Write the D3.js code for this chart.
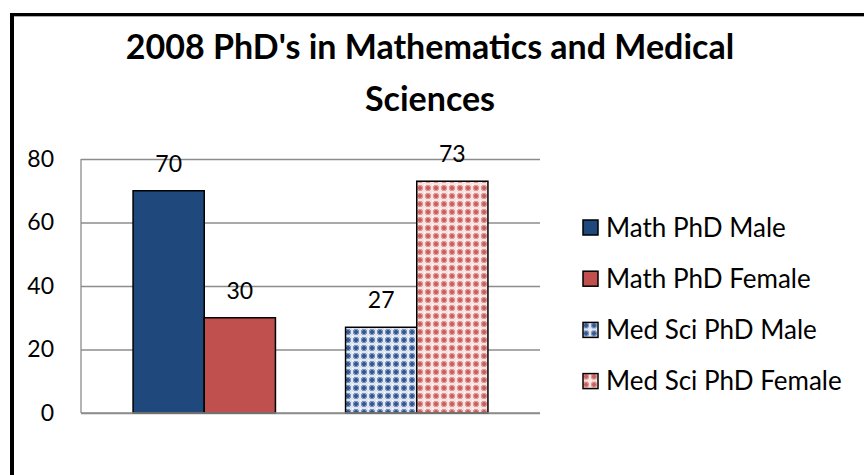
<!DOCTYPE html>
<html>
<head>
<meta charset="utf-8">
<script src="https://cdn.jsdelivr.net/npm/d3@7"></script>
<style>
  body { margin: 0; background: #fff; }
  svg { display: block; font-family: Lato, "Open Sans", sans-serif; }
</style>
</head>
<body>
<div id="chart"></div>
<script>
// data
const categories = ["Mathematics", "Medical Sciences"];
const genders = ["Male", "Female"];
const mathValues = [70, 30];
const medValues = [27, 73];
const seriesNames = ["Math PhD Male", "Math PhD Female", "Med Sci PhD Male", "Med Sci PhD Female"];
const yTicks = [0, 20, 40, 60, 80];
const titleLines = ["2008 PhD's in Mathematics and Medical", "Sciences"];

const width = 864;
const height = 475;

// plot area
const plot = { left: 81, right: 540, top: 159, bottom: 413 };

const svg = d3.select('#chart')
    .append('svg')
    .attr('width', width)
    .attr('height', height);

// fills: solid for math, pattern for medical sciences
const defs = svg.append('defs');

function makePattern(id, light, mid, dark) {
    const p = defs.append('pattern')
        .attr('id', id)
        .attr('patternUnits', 'userSpaceOnUse')
        .attr('width', 8)
        .attr('height', 8);
    p.append('rect').attr('width', 8).attr('height', 8).attr('fill', light);
    p.append('rect').attr('x', 1).attr('y', 2).attr('width', 6).attr('height', 4).attr('fill', mid);
    p.append('rect').attr('x', 2).attr('y', 1).attr('width', 4).attr('height', 6).attr('fill', mid);
    p.append('rect').attr('x', 3).attr('y', 2).attr('width', 2).attr('height', 4).attr('fill', dark);
    p.append('rect').attr('x', 2).attr('y', 3).attr('width', 4).attr('height', 2).attr('fill', dark);
    p.append('rect').attr('x', 0).attr('y', 0).attr('width', 1).attr('height', 1).attr('fill', '#fff');
}
makePattern('blueGrid', '#dfe6f1', '#7b95c0', '#34598f');
makePattern('redGrid', '#f7e3e2', '#e09896', '#c9605d');

const fills = ['#1f497d', '#c0504d', 'url(#blueGrid)', 'url(#redGrid)'];

// build bar records from the arrays
const bars = [];
categories.forEach((cat, ci) => {
    const vals = ci === 0 ? mathValues : medValues;
    genders.forEach((g, gi) => {
        bars.push({ cat, gender: g, value: vals[gi], name: seriesNames[ci * 2 + gi], fill: fills[ci * 2 + gi] });
    });
});

// scales
const x0 = d3.scaleBand()
    .domain(categories)
    .range([plot.left, plot.right])
    .paddingInner(0.33)
    .paddingOuter(0.245);

const x1 = d3.scaleBand()
    .domain(genders)
    .range([0, x0.bandwidth()]);

const y = d3.scaleLinear()
    .domain([0, 80])
    .range([plot.bottom, plot.top]);

// gridlines
svg.append('g')
    .attr('transform', `translate(${plot.left},0)`)
    .call(d3.axisLeft(y).tickValues(yTicks).tickFormat('').tickSize(-(plot.right - plot.left)))
    .call(g => g.select('.domain').remove())
    .call(g => g.selectAll('line').attr('stroke', '#8c8c8c').attr('stroke-width', 1.3));

// left axis line
svg.append('line')
    .attr('x1', plot.left).attr('x2', plot.left)
    .attr('y1', plot.top).attr('y2', plot.bottom)
    .attr('stroke', '#8c8c8c')
    .attr('stroke-width', 1.3);

// y tick labels
svg.append('g')
    .attr('transform', `translate(${plot.left},0)`)
    .call(d3.axisLeft(y).tickValues(yTicks).tickSize(0).tickPadding(27))
    .call(g => g.select('.domain').remove())
    .call(g => g.selectAll('text')
        .attr('font-family', 'Lato, sans-serif')
        .attr('font-size', 23)
        .attr('fill', '#000'));

// bars
svg.append('g')
    .selectAll('rect')
    .data(bars)
    .join('rect')
    .attr('x', d => x0(d.cat) + x1(d.gender))
    .attr('y', d => y(d.value))
    .attr('width', x1.bandwidth())
    .attr('height', d => y(0) - y(d.value))
    .attr('fill', d => d.fill)
    .attr('stroke', '#000')
    .attr('stroke-width', 1.5);

// data labels
svg.append('g')
    .selectAll('text')
    .data(bars)
    .join('text')
    .attr('x', d => x0(d.cat) + x1(d.gender) + x1.bandwidth() / 2)
    .attr('y', d => y(d.value) - 19)
    .attr('text-anchor', 'middle')
    .attr('font-size', 23)
    .attr('fill', '#000')
    .text(d => d.value);

// bottom axis line
svg.append('line')
    .attr('x1', plot.left).attr('x2', plot.right)
    .attr('y1', plot.bottom).attr('y2', plot.bottom)
    .attr('stroke', '#8c8c8c')
    .attr('stroke-width', 1.3);

// title
svg.append('text')
    .attr('text-anchor', 'middle')
    .attr('font-size', 34)
    .attr('font-weight', 'bold')
    .selectAll('tspan')
    .data(titleLines)
    .join('tspan')
    .attr('x', 430)
    .attr('y', (d, i) => 59 + i * 52)
    .text(d => d);

// legend
const legend = svg.append('g')
    .attr('transform', 'translate(582,219)');

const item = legend.selectAll('g')
    .data(bars)
    .join('g')
    .attr('transform', (d, i) => `translate(0,${i * 51.2})`);

item.append('rect')
    .attr('x', 1).attr('y', 1)
    .attr('width', 15).attr('height', 15)
    .attr('fill', d => d.fill)
    .attr('stroke', '#000')
    .attr('stroke-width', 1.5);

item.append('text')
    .attr('x', 24)
    .attr('y', 17.5)
    .attr('font-size', 26)
    .attr('fill', '#000')
    .text(d => d.name);

// outer frame (only top and left edges visible)
svg.append('line')
    .attr('x1', 10).attr('x2', width)
    .attr('y1', 14.5).attr('y2', 14.5)
    .attr('stroke', '#000').attr('stroke-width', 3);
svg.append('line')
    .attr('x1', 14).attr('x2', width)
    .attr('y1', 16.5).attr('y2', 16.5)
    .attr('stroke', '#aaa').attr('stroke-width', 1);
svg.append('line')
    .attr('x1', 12).attr('x2', 12)
    .attr('y1', 13).attr('y2', height)
    .attr('stroke', '#000').attr('stroke-width', 4);
</script>
</body>
</html>
